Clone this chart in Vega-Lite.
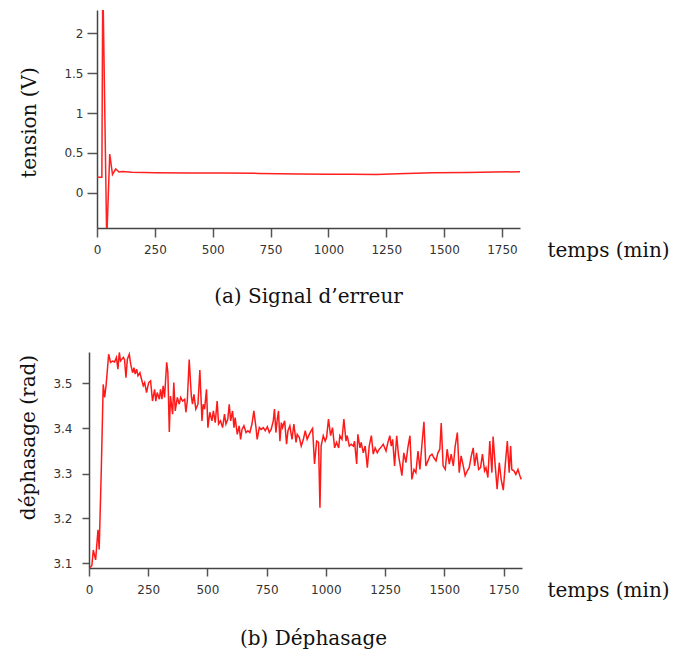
{
  "$schema": "https://vega.github.io/schema/vega-lite/v6.json",
  "padding": {"left": 18, "top": 10, "right": 0, "bottom": 0},
  "background": "white",
  "spacing": 42,
  "config": {
    "view": {"stroke": null},
    "axis": {"grid": false, "domainColor": "#444", "domainWidth": 1.5, "tickColor": "#555", "tickWidth": 1.5, "labelFont": "DejaVu Sans", "labelFontSize": 12, "labelColor": "#333", "labelFlush": false, "labelOverlap": false, "titleFont": "DejaVu Serif", "titleFontSize": 20, "titleFontWeight": "normal", "titleColor": "#111"},
    "title": {"font": "DejaVu Serif", "fontSize": 20, "fontWeight": "normal", "color": "#111"}
  },
  "vconcat": [
    {
      "width": 423,
      "height": 218,
      "title": {"text": "(a) Signal d’erreur", "orient": "bottom", "anchor": "middle", "offset": 26},
      "data": {"values": [
        {"t": 0, "v": 0.197}, {"t": 21, "v": 0.197}, {"t": 25, "v": 2.7}, {"t": 42, "v": -0.6},
        {"t": 55, "v": 0.485}, {"t": 67, "v": 0.23}, {"t": 81, "v": 0.3}, {"t": 95, "v": 0.262},
        {"t": 110, "v": 0.266}, {"t": 150, "v": 0.258}, {"t": 254, "v": 0.252}, {"t": 400, "v": 0.25},
        {"t": 541, "v": 0.248}, {"t": 700, "v": 0.244}, {"t": 875, "v": 0.236}, {"t": 1000, "v": 0.234},
        {"t": 1100, "v": 0.232}, {"t": 1207, "v": 0.231}, {"t": 1300, "v": 0.24}, {"t": 1451, "v": 0.252},
        {"t": 1600, "v": 0.256}, {"t": 1720, "v": 0.26}, {"t": 1828, "v": 0.265}
      ]},
      "mark": {"type": "line", "color": "#ff2020", "strokeWidth": 1.5, "clip": true},
      "encoding": {
        "x": {"field": "t", "type": "quantitative", "scale": {"domain": [0, 1828], "nice": false, "zero": false},
          "axis": {"values": [0, 250, 500, 750, 1000, 1250, 1500, 1750], "format": "d", "tickSize": 9, "labelPadding": 7,
            "title": "temps (min)", "titleX": 450, "titleY": 28.5, "titleAlign": "left", "titleBaseline": "alphabetic", "titleAngle": 0}},
        "y": {"field": "v", "type": "quantitative", "scale": {"domain": [-0.44, 2.29], "nice": false, "zero": false},
          "axis": {"values": [0, 0.5, 1, 1.5, 2], "format": "~g", "tickSize": 10, "labelPadding": 4,
            "title": "tension (V)", "titleX": -62, "titleY": 112, "titleAngle": 270, "titleAlign": "center", "titleBaseline": "alphabetic"}}
      }
    },
    {
      "width": 433,
      "height": 216,
      "title": {"text": "(b) Déphasage", "orient": "bottom", "anchor": "middle", "offset": 28},
      "data": {"values": [
        {"t": 4, "v": 3.091}, {"t": 12, "v": 3.095}, {"t": 18, "v": 3.13}, {"t": 28, "v": 3.108}, {"t": 38, "v": 3.175},
        {"t": 43, "v": 3.131}, {"t": 52, "v": 3.31}, {"t": 60, "v": 3.498}, {"t": 66, "v": 3.469}, {"t": 72, "v": 3.495},
        {"t": 83, "v": 3.565}, {"t": 91, "v": 3.547}, {"t": 100, "v": 3.55}, {"t": 108, "v": 3.548}, {"t": 116, "v": 3.558},
        {"t": 122, "v": 3.532}, {"t": 128, "v": 3.569}, {"t": 133, "v": 3.55}, {"t": 145, "v": 3.558}, {"t": 150, "v": 3.553},
        {"t": 156, "v": 3.513}, {"t": 162, "v": 3.554}, {"t": 170, "v": 3.565}, {"t": 176, "v": 3.543}, {"t": 184, "v": 3.524},
        {"t": 190, "v": 3.535}, {"t": 195, "v": 3.521}, {"t": 201, "v": 3.532}, {"t": 207, "v": 3.517}, {"t": 215, "v": 3.524},
        {"t": 221, "v": 3.511}, {"t": 229, "v": 3.495}, {"t": 235, "v": 3.502}, {"t": 243, "v": 3.48}, {"t": 252, "v": 3.502},
        {"t": 260, "v": 3.506}, {"t": 268, "v": 3.461}, {"t": 277, "v": 3.487}, {"t": 282, "v": 3.461}, {"t": 288, "v": 3.48},
        {"t": 297, "v": 3.465}, {"t": 302, "v": 3.487}, {"t": 308, "v": 3.465}, {"t": 313, "v": 3.495}, {"t": 319, "v": 3.469},
        {"t": 328, "v": 3.547}, {"t": 333, "v": 3.524}, {"t": 339, "v": 3.392}, {"t": 344, "v": 3.472}, {"t": 353, "v": 3.432},
        {"t": 358, "v": 3.502}, {"t": 364, "v": 3.439}, {"t": 373, "v": 3.469}, {"t": 381, "v": 3.454}, {"t": 387, "v": 3.469},
        {"t": 395, "v": 3.461}, {"t": 404, "v": 3.465}, {"t": 409, "v": 3.436}, {"t": 415, "v": 3.461}, {"t": 423, "v": 3.553},
        {"t": 432, "v": 3.472}, {"t": 437, "v": 3.454}, {"t": 443, "v": 3.476}, {"t": 451, "v": 3.443}, {"t": 460, "v": 3.454},
        {"t": 468, "v": 3.53}, {"t": 477, "v": 3.417}, {"t": 482, "v": 3.454}, {"t": 488, "v": 3.443}, {"t": 496, "v": 3.487},
        {"t": 502, "v": 3.402}, {"t": 510, "v": 3.436}, {"t": 519, "v": 3.417}, {"t": 525, "v": 3.439}, {"t": 533, "v": 3.413},
        {"t": 541, "v": 3.461}, {"t": 547, "v": 3.41}, {"t": 555, "v": 3.417}, {"t": 564, "v": 3.402}, {"t": 572, "v": 3.432},
        {"t": 578, "v": 3.41}, {"t": 586, "v": 3.421}, {"t": 592, "v": 3.454}, {"t": 598, "v": 3.417}, {"t": 606, "v": 3.439},
        {"t": 612, "v": 3.402}, {"t": 617, "v": 3.424}, {"t": 626, "v": 3.387}, {"t": 634, "v": 3.406}, {"t": 640, "v": 3.376},
        {"t": 646, "v": 3.398}, {"t": 654, "v": 3.406}, {"t": 663, "v": 3.391}, {"t": 671, "v": 3.395}, {"t": 679, "v": 3.391},
        {"t": 688, "v": 3.41}, {"t": 696, "v": 3.439}, {"t": 705, "v": 3.402}, {"t": 710, "v": 3.376}, {"t": 719, "v": 3.402},
        {"t": 727, "v": 3.398}, {"t": 736, "v": 3.402}, {"t": 744, "v": 3.395}, {"t": 753, "v": 3.404}, {"t": 761, "v": 3.391},
        {"t": 769, "v": 3.398}, {"t": 778, "v": 3.417}, {"t": 783, "v": 3.443}, {"t": 789, "v": 3.391}, {"t": 795, "v": 3.421},
        {"t": 800, "v": 3.439}, {"t": 806, "v": 3.372}, {"t": 812, "v": 3.413}, {"t": 817, "v": 3.402}, {"t": 826, "v": 3.417},
        {"t": 834, "v": 3.365}, {"t": 840, "v": 3.395}, {"t": 848, "v": 3.406}, {"t": 857, "v": 3.376}, {"t": 865, "v": 3.41},
        {"t": 874, "v": 3.369}, {"t": 879, "v": 3.387}, {"t": 888, "v": 3.38}, {"t": 896, "v": 3.361}, {"t": 905, "v": 3.376},
        {"t": 913, "v": 3.395}, {"t": 921, "v": 3.376}, {"t": 930, "v": 3.387}, {"t": 938, "v": 3.395}, {"t": 944, "v": 3.4},
        {"t": 952, "v": 3.321}, {"t": 961, "v": 3.372}, {"t": 969, "v": 3.369}, {"t": 975, "v": 3.224}, {"t": 980, "v": 3.361},
        {"t": 989, "v": 3.384}, {"t": 997, "v": 3.372}, {"t": 1003, "v": 3.38}, {"t": 1011, "v": 3.421}, {"t": 1020, "v": 3.384},
        {"t": 1028, "v": 3.402}, {"t": 1037, "v": 3.357}, {"t": 1045, "v": 3.369}, {"t": 1054, "v": 3.357}, {"t": 1059, "v": 3.384},
        {"t": 1068, "v": 3.376}, {"t": 1076, "v": 3.421}, {"t": 1085, "v": 3.372}, {"t": 1090, "v": 3.384}, {"t": 1099, "v": 3.361},
        {"t": 1107, "v": 3.365}, {"t": 1116, "v": 3.361}, {"t": 1121, "v": 3.372}, {"t": 1130, "v": 3.321}, {"t": 1135, "v": 3.387},
        {"t": 1144, "v": 3.357}, {"t": 1149, "v": 3.369}, {"t": 1158, "v": 3.346}, {"t": 1166, "v": 3.361}, {"t": 1175, "v": 3.313},
        {"t": 1183, "v": 3.361}, {"t": 1192, "v": 3.384}, {"t": 1200, "v": 3.343}, {"t": 1208, "v": 3.357}, {"t": 1217, "v": 3.346},
        {"t": 1225, "v": 3.354}, {"t": 1231, "v": 3.357}, {"t": 1242, "v": 3.365}, {"t": 1254, "v": 3.35}, {"t": 1262, "v": 3.369},
        {"t": 1270, "v": 3.384}, {"t": 1276, "v": 3.361}, {"t": 1282, "v": 3.376}, {"t": 1290, "v": 3.317}, {"t": 1299, "v": 3.384},
        {"t": 1307, "v": 3.339}, {"t": 1313, "v": 3.321}, {"t": 1321, "v": 3.295}, {"t": 1329, "v": 3.346}, {"t": 1338, "v": 3.324},
        {"t": 1346, "v": 3.357}, {"t": 1355, "v": 3.384}, {"t": 1363, "v": 3.287}, {"t": 1372, "v": 3.309}, {"t": 1380, "v": 3.302},
        {"t": 1389, "v": 3.35}, {"t": 1397, "v": 3.309}, {"t": 1405, "v": 3.361}, {"t": 1414, "v": 3.415}, {"t": 1422, "v": 3.317},
        {"t": 1431, "v": 3.328}, {"t": 1439, "v": 3.339}, {"t": 1448, "v": 3.343}, {"t": 1456, "v": 3.335}, {"t": 1465, "v": 3.328},
        {"t": 1473, "v": 3.346}, {"t": 1481, "v": 3.354}, {"t": 1487, "v": 3.412}, {"t": 1495, "v": 3.317}, {"t": 1504, "v": 3.309},
        {"t": 1512, "v": 3.354}, {"t": 1521, "v": 3.321}, {"t": 1529, "v": 3.343}, {"t": 1538, "v": 3.317}, {"t": 1546, "v": 3.361},
        {"t": 1555, "v": 3.391}, {"t": 1563, "v": 3.302}, {"t": 1571, "v": 3.339}, {"t": 1580, "v": 3.317}, {"t": 1588, "v": 3.295},
        {"t": 1597, "v": 3.306}, {"t": 1605, "v": 3.313}, {"t": 1614, "v": 3.339}, {"t": 1622, "v": 3.357}, {"t": 1628, "v": 3.317},
        {"t": 1636, "v": 3.346}, {"t": 1645, "v": 3.309}, {"t": 1653, "v": 3.313}, {"t": 1661, "v": 3.343}, {"t": 1670, "v": 3.306},
        {"t": 1676, "v": 3.313}, {"t": 1684, "v": 3.291}, {"t": 1692, "v": 3.372}, {"t": 1701, "v": 3.302}, {"t": 1706, "v": 3.382},
        {"t": 1715, "v": 3.317}, {"t": 1723, "v": 3.265}, {"t": 1732, "v": 3.324}, {"t": 1740, "v": 3.287}, {"t": 1749, "v": 3.263},
        {"t": 1757, "v": 3.317}, {"t": 1766, "v": 3.372}, {"t": 1774, "v": 3.302}, {"t": 1780, "v": 3.361}, {"t": 1785, "v": 3.309},
        {"t": 1794, "v": 3.306}, {"t": 1802, "v": 3.298}, {"t": 1811, "v": 3.309}, {"t": 1819, "v": 3.295}, {"t": 1825, "v": 3.287}
      ]},
      "mark": {"type": "line", "color": "#ff1a1a", "strokeWidth": 1.5, "clip": false},
      "encoding": {
        "x": {"field": "t", "type": "quantitative", "scale": {"domain": [0, 1828], "range": [-8, 425], "nice": false, "zero": false},
          "axis": {"values": [0, 250, 500, 750, 1000, 1250, 1500, 1750], "format": "d", "tickSize": 8, "labelPadding": 8,
            "title": "temps (min)", "titleX": 450, "titleY": 28.5, "titleAlign": "left", "titleBaseline": "alphabetic", "titleAngle": 0}},
        "y": {"field": "v", "type": "quantitative", "scale": {"domain": [3.09, 3.57], "nice": false, "zero": false},
          "axis": {"values": [3.1, 3.2, 3.3, 3.4, 3.5], "format": ".1f", "tickSize": 7, "labelPadding": 10, "offset": 8,
            "title": "déphasage (rad)", "titleX": -55, "titleY": 85, "titleAngle": 270, "titleAlign": "center", "titleBaseline": "alphabetic"}}
      }
    }
  ]
}
